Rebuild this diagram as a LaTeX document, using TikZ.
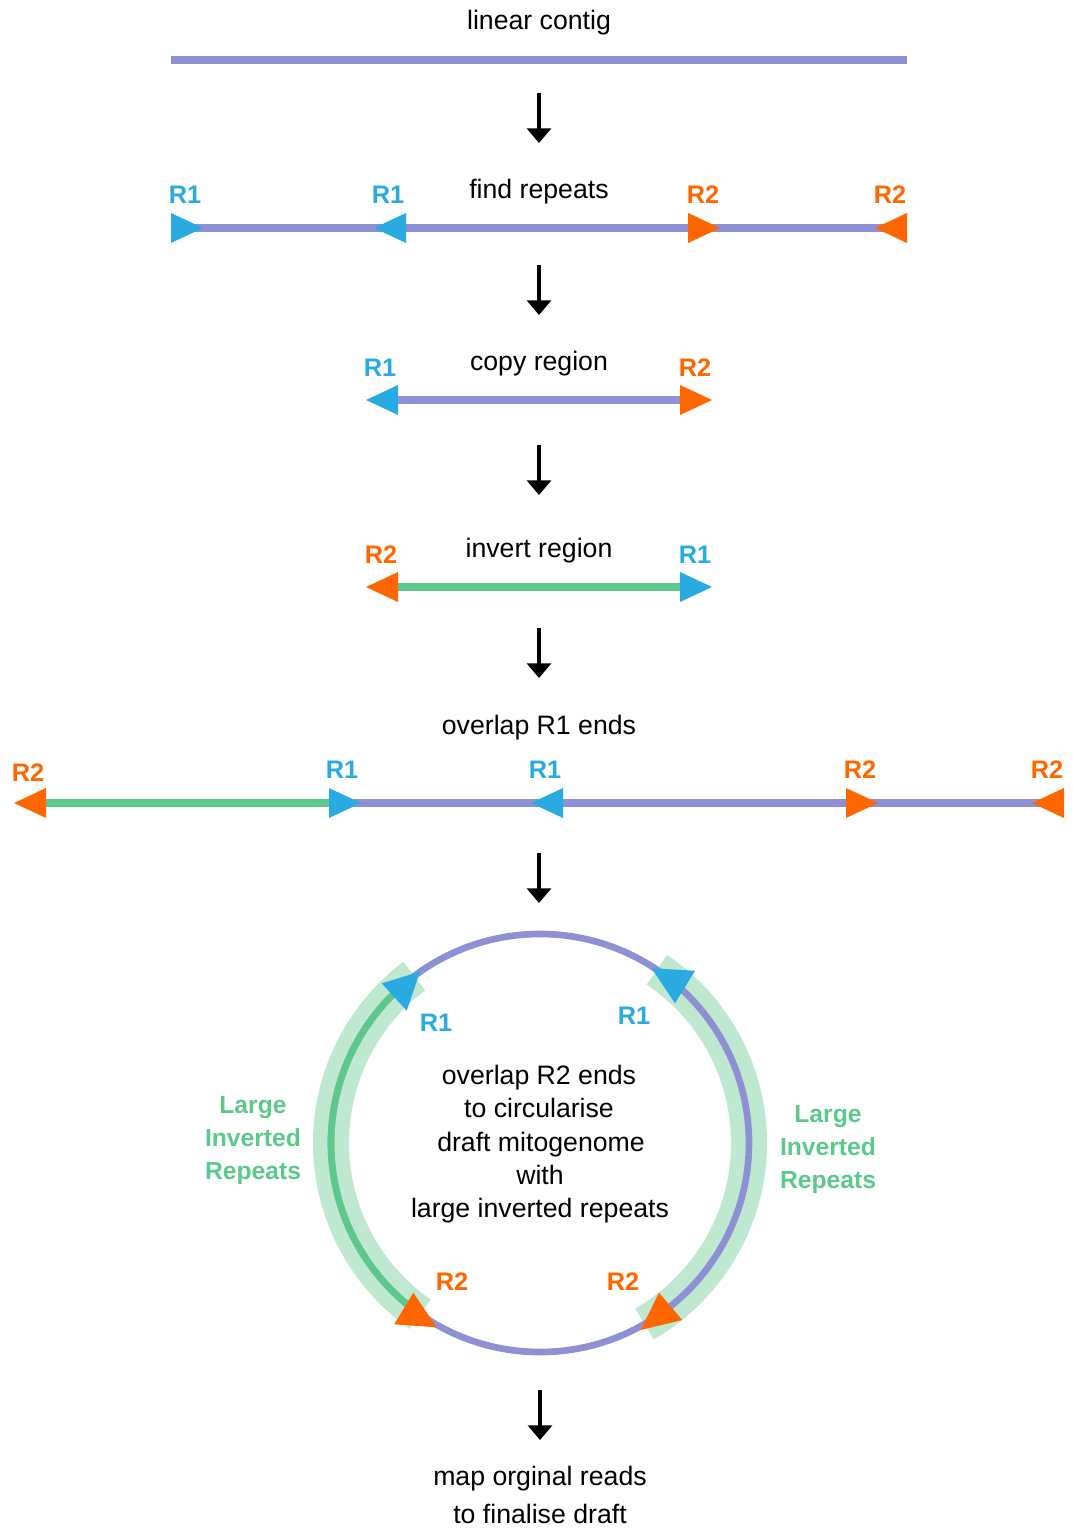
\documentclass[tikz,border=0pt]{standalone}
\usepackage{fontspec}
\setmainfont{Liberation Sans}
\usetikzlibrary{arrows.meta}
\definecolor{cpurple}{RGB}{142,144,212}
\definecolor{cgreen}{RGB}{92,201,139}
\definecolor{clight}{RGB}{190,233,208}
\definecolor{cblue}{RGB}{41,171,226}
\definecolor{corange}{RGB}{255,102,0}
\tikzset{
  txt/.style={anchor=base,inner sep=0pt,font=\fontsize{20}{24}\selectfont},
  rlab/.style={anchor=base,inner sep=0pt,font=\fontsize{19}{22}\selectfont\bfseries},
  glab/.style={anchor=base,inner sep=0pt,text=cgreen,font=\fontsize{18.5}{22}\selectfont\bfseries},
  seq/.style={line width=6pt,cpurple},
  inv/.style={line width=6pt,cgreen},
  flow/.style={line width=2.4pt,-{Triangle[width=18pt,length=11pt]}},
  pics/tright/.style={code={\fill (0,-15) -- (32,0) -- (0,15) -- cycle;}},
  pics/tleft/.style={code={\fill (0,-15) -- (-32,0) -- (0,15) -- cycle;}}
}
\begin{document}
\begin{tikzpicture}[x=0.75pt,y=-0.75pt]
\useasboundingbox (0,0) rectangle (1072,1530);
% row 1
\node[txt] (t1) at (539,30) {linear contig};
\coordinate (l1a) at (171,60); \coordinate (l1b) at (907,60);
\draw[seq] (l1a) -- (l1b);
\coordinate (a1s) at (539,93); \coordinate (a1e) at (539,143);
\draw[flow] (a1s) -- (a1e);
% row 2
\node[txt] (t2) at (539,199) {find repeats};
\coordinate (l2a) at (180,228); \coordinate (l2b) at (900,228);
\draw[seq] (l2a) -- (l2b);
\pic[fill=cblue] at (171,228) {tright};
\pic[fill=cblue] at (406,228) {tleft};
\pic[fill=corange] at (688,228) {tright};
\pic[fill=corange] at (907,228) {tleft};
\node[rlab,text=cblue] (r21) at (185,204) {R1};
\node[rlab,text=cblue] (r22) at (388,204) {R1};
\node[rlab,text=corange] (r23) at (703,204) {R2};
\node[rlab,text=corange] (r24) at (890,204) {R2};
\coordinate (a2s) at (539,265); \coordinate (a2e) at (539,315);
\draw[flow] (a2s) -- (a2e);
% row 3
\node[txt] (t3) at (539,370) {copy region};
\coordinate (l3a) at (380,400); \coordinate (l3b) at (700,400);
\draw[seq] (l3a) -- (l3b);
\pic[fill=cblue] at (398,400) {tleft};
\pic[fill=corange] at (680,400) {tright};
\node[rlab,text=cblue] (r31) at (380,376) {R1};
\node[rlab,text=corange] (r32) at (695,376) {R2};
\coordinate (a3s) at (539,445); \coordinate (a3e) at (539,495);
\draw[flow] (a3s) -- (a3e);
% row 4
\node[txt] (t4) at (539,557) {invert region};
\coordinate (l4a) at (380,587); \coordinate (l4b) at (700,587);
\draw[inv] (l4a) -- (l4b);
\pic[fill=corange] at (398,587) {tleft};
\pic[fill=cblue] at (680,587) {tright};
\node[rlab,text=corange] (r41) at (381,563) {R2};
\node[rlab,text=cblue] (r42) at (695,563) {R1};
\coordinate (a4s) at (539,628); \coordinate (a4e) at (539,678);
\draw[flow] (a4s) -- (a4e);
% row 5
\node[txt] (t5) at (539,734) {overlap R1 ends};
\coordinate (l5a) at (30,803); \coordinate (l5m) at (345,803); \coordinate (l5b) at (1055,803);
\draw[inv] (l5a) -- (l5m);
\draw[seq] (l5m) -- (l5b);
\pic[fill=corange] at (46,803) {tleft};
\pic[fill=cblue] at (329,803) {tright};
\pic[fill=cblue] at (563,803) {tleft};
\pic[fill=corange] at (846,803) {tright};
\pic[fill=corange] at (1064,803) {tleft};
\node[rlab,text=corange] (r51) at (28,781) {R2};
\node[rlab,text=cblue] (r52) at (342,778) {R1};
\node[rlab,text=cblue] (r53) at (545,778) {R1};
\node[rlab,text=corange] (r54) at (860,778) {R2};
\node[rlab,text=corange] (r55) at (1047,778) {R2};
\coordinate (a5s) at (539,853); \coordinate (a5e) at (539,903);
\draw[flow] (a5s) -- (a5e);
% circle
\coordinate (c) at (540,1143);
\draw[clight,line width=27pt] ([shift={(c)}]-127:209) arc[start angle=-127,end angle=-235,radius=209];
\draw[clight,line width=27pt] ([shift={(c)}]-56:209) arc[start angle=-56,end angle=60,radius=209];
\draw[cpurple,line width=5pt] (c) circle[radius=209];
\draw[cgreen,line width=5pt] ([shift={(c)}]-131:209) arc[start angle=-131,end angle=-232,radius=209];
\fill[cblue] (381.7,983.3) -- (420,971.7) -- (406.7,1010.7) -- cycle;
\fill[cblue] (651.7,968.3) -- (695,970.7) -- (675,1003.3) -- cycle;
\fill[corange] (413.3,1292.7) -- (394.3,1324.3) -- (436.7,1327.3) -- cycle;
\fill[corange] (659,1292.7) -- (682.3,1320) -- (640.7,1330) -- cycle;
\node[rlab,text=cblue] (r61) at (436,1031) {R1};
\node[rlab,text=cblue] (r62) at (634,1024) {R1};
\node[rlab,text=corange] (r63) at (452,1290) {R2};
\node[rlab,text=corange] (r64) at (623,1290) {R2};
\node[glab] (g1) at (253,1113) {Large};
\node[glab] (g2) at (253,1146) {Inverted};
\node[glab] (g3) at (253,1179) {Repeats};
\node[glab] (g4) at (828,1122) {Large};
\node[glab] (g5) at (828,1155) {Inverted};
\node[glab] (g6) at (828,1188) {Repeats};
\node[txt] (m1) at (539,1084) {overlap R2 ends};
\node[txt] (m2) at (539,1117) {to circularise};
\node[txt] (m3) at (541,1151) {draft mitogenome};
\node[txt] (m4) at (540,1184) {with};
\node[txt] (m5) at (540,1217) {large inverted repeats};
\coordinate (a6s) at (540,1390); \coordinate (a6e) at (540,1440);
\draw[flow] (a6s) -- (a6e);
\node[txt] (f1) at (540,1485) {map orginal reads};
\node[txt] (f2) at (540,1523) {to finalise draft};
\end{tikzpicture}
\end{document}
